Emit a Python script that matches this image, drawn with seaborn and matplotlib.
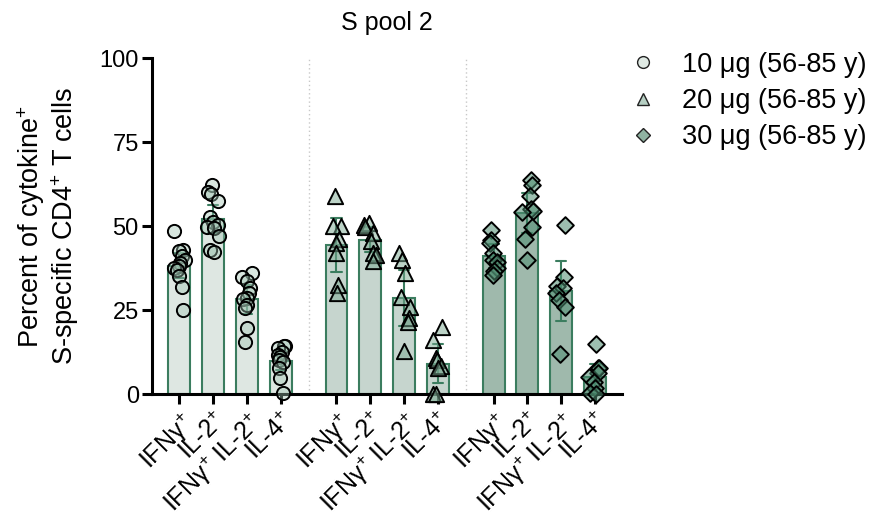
import numpy as np
import pandas as pd
import matplotlib
matplotlib.use("Agg")
import matplotlib.pyplot as plt
import seaborn as sns
from matplotlib.lines import Line2D

# ---------------- data ----------------
cytokines = ["IFNγ$^{+}$", "IL-2$^{+}$", "IFNγ$^{+}$ IL-2$^{+}$", "IL-4$^{+}$"]
doses = ["10 μg (56-85 y)", "20 μg (56-85 y)", "30 μg (56-85 y)"]

d10_ifng = [48.5, 43, 42.5, 41, 40, 39, 38, 37.5, 37, 35, 32, 25]
d10_il2 = [62.3, 60, 59.6, 57.5, 52.8, 51.3, 50.3, 49.8, 49.4, 47, 43, 42.4]
d10_dp = [36, 34.8, 33.5, 31.5, 30, 28.5, 28.2, 26.5, 25.5, 19.6, 15.6]
d10_il4 = [14.3, 14.3, 13.6, 12.6, 11.6, 11.0, 10.1, 9.6, 7.6, 4.7, 0.2]

d20_ifng = [59, 50, 50, 46, 45, 42, 32.5, 30]
d20_il2 = [50.8, 50.3, 49.8, 47.9, 45.4, 41.9, 41.4, 39.7]
d20_dp = [41.9, 39.9, 35.9, 29, 26, 22.5, 21.5, 12.9]
d20_il4 = [19.9, 16.1, 10.6, 10.1, 8.3, 7.6, 0, 0]

d30_ifng = [48.7, 45.9, 44.9, 42.1, 39.9, 39.4, 37.4, 36.7, 35.4]
d30_il2 = [63.8, 62.3, 58.8, 55, 54.6, 54.3, 49.8, 46.1, 39.9]
d30_dp = [50.3, 34.8, 32.2, 31.5, 30, 28, 26, 11.8]
d30_il4 = [14.9, 7.6, 7.6, 6.2, 5, 3.7, 1.7, 0.2, 0]

groups = [
    [d10_ifng, d10_il2, d10_dp, d10_il4],
    [d20_ifng, d20_il2, d20_dp, d20_il4],
    [d30_ifng, d30_il2, d30_dp, d30_il4],
]

# ---------------- style ----------------
sns.set_style("ticks")
plt.rcParams["font.family"] = ["Liberation Sans", "DejaVu Sans"]
plt.rcParams["mathtext.fontset"] = "custom"
plt.rcParams["mathtext.rm"] = "Liberation Sans"
plt.rcParams["mathtext.it"] = "Liberation Sans:italic"
plt.rcParams["text.color"] = "black"
plt.rcParams["axes.labelcolor"] = "black"
plt.rcParams["xtick.color"] = "black"
plt.rcParams["ytick.color"] = "black"

GROUP_STEP = 4.65
edge_green = "#3b7d5f"
bar_colors = ["#dde8e2", "#c3d8ce", "#9bbdac"]
point_colors = [(0.62, 0.76, 0.69, 0.40), (0.48, 0.66, 0.57, 0.50), (0.30, 0.55, 0.44, 0.55)]
legend_colors = ["#dfe9e3", "#b6cfc3", "#8fb3a2"]
markers = ["o", "^", "D"]
msizes = [9.5, 11.0, 8.5]

rows = []
for g, grp in enumerate(groups):
    for i, vals in enumerate(grp):
        pos = round(g * GROUP_STEP + i, 4)
        for v in vals:
            rows.append({"pos": pos, "value": v, "dose": doses[g]})
df = pd.DataFrame(rows)

T95 = {8: 2.365, 9: 2.306, 10: 2.262, 11: 2.228, 12: 2.201}


def ci95(v):
    v = np.asarray(v, dtype=float)
    n = len(v)
    m = v.mean()
    se = v.std(ddof=1) / np.sqrt(n)
    t = T95.get(n, 2.0)
    return (m - t * se, m + t * se)


fig = plt.figure(figsize=(8.76, 5.19), dpi=100)
ax = fig.add_axes([0.1735, 0.2408, 0.5366, 0.6474])

sns.barplot(
    data=df, x="pos", y="value", hue="dose", native_scale=True, dodge=False,
    palette=dict(zip(doses, bar_colors)), width=0.65, edgecolor=edge_green,
    linewidth=1.5, errorbar=ci95, capsize=0.3,
    err_kws={"color": edge_green, "linewidth": 1.5}, legend=False, ax=ax,
)

np.random.seed(7)
for g in range(3):
    sub = df[df["dose"] == doses[g]]
    before = len(ax.collections)
    sns.stripplot(
        data=sub, x="pos", y="value", native_scale=True, jitter=0.18,
        marker=markers[g], size=msizes[g], color=point_colors[g][:3],
        edgecolor="black", linewidth=1.4, ax=ax,
    )
    for coll in ax.collections[before:]:
        coll.set_facecolor(point_colors[g])
        coll.set_edgecolor("black")
        coll.set_zorder(4)
        coll.set_clip_on(False)

# separators
for s in [3 + (GROUP_STEP - 3) / 2, GROUP_STEP + 3 + (GROUP_STEP - 3) / 2]:
    ax.axvline(s, ymin=0, ymax=1, ls=(0, (1, 2)), color="#c8c8c8", lw=1, zorder=0)

ticks = [round(g * GROUP_STEP + i, 4) for g in range(3) for i in range(4)]
ax.set_xticks(ticks)
ax.set_xticklabels(cytokines * 3, rotation=45, ha="right", rotation_mode="anchor", fontsize=18)
ax.set_xlim(-0.81, 13.1)
ax.set_ylim(0, 100)
ax.set_yticks([0, 25, 50, 75, 100])
ax.set_yticklabels(["0", "25", "50", "75", "100"], fontsize=17)
ax.tick_params(axis="both", width=2.2, length=7.5, color="black")
ax.tick_params(axis="y", pad=2)
ax.tick_params(axis="x", pad=3)
for sp in ["top", "right"]:
    ax.spines[sp].set_visible(False)
for sp in ["left", "bottom"]:
    ax.spines[sp].set_linewidth(2.2)
    ax.spines[sp].set_color("black")

ax.set_xlabel("")
ax.set_ylabel("Percent of cytokine$^{+}$\nS-specific CD4$^{+}$ T cells", fontsize=19.5, linespacing=1.1)
ax.yaxis.set_label_coords(-0.15, 0.5)
ax.set_title("S pool 2", fontsize=18, pad=20)

handles = [
    Line2D([], [], marker=markers[g], linestyle="none", markersize=[8.5, 9, 7.5][g],
           markerfacecolor=legend_colors[g], markeredgecolor="#222222", markeredgewidth=1.0)
    for g in range(3)
]
fig.legend(handles, doses, loc="upper left", bbox_to_anchor=(0.7186, 0.90),
           bbox_transform=fig.transFigure, frameon=False, fontsize=19.5,
           handletextpad=0.95, labelspacing=0.38, borderaxespad=0, borderpad=0,
           handlelength=1.0)

fig.savefig("out.png", dpi=100)
